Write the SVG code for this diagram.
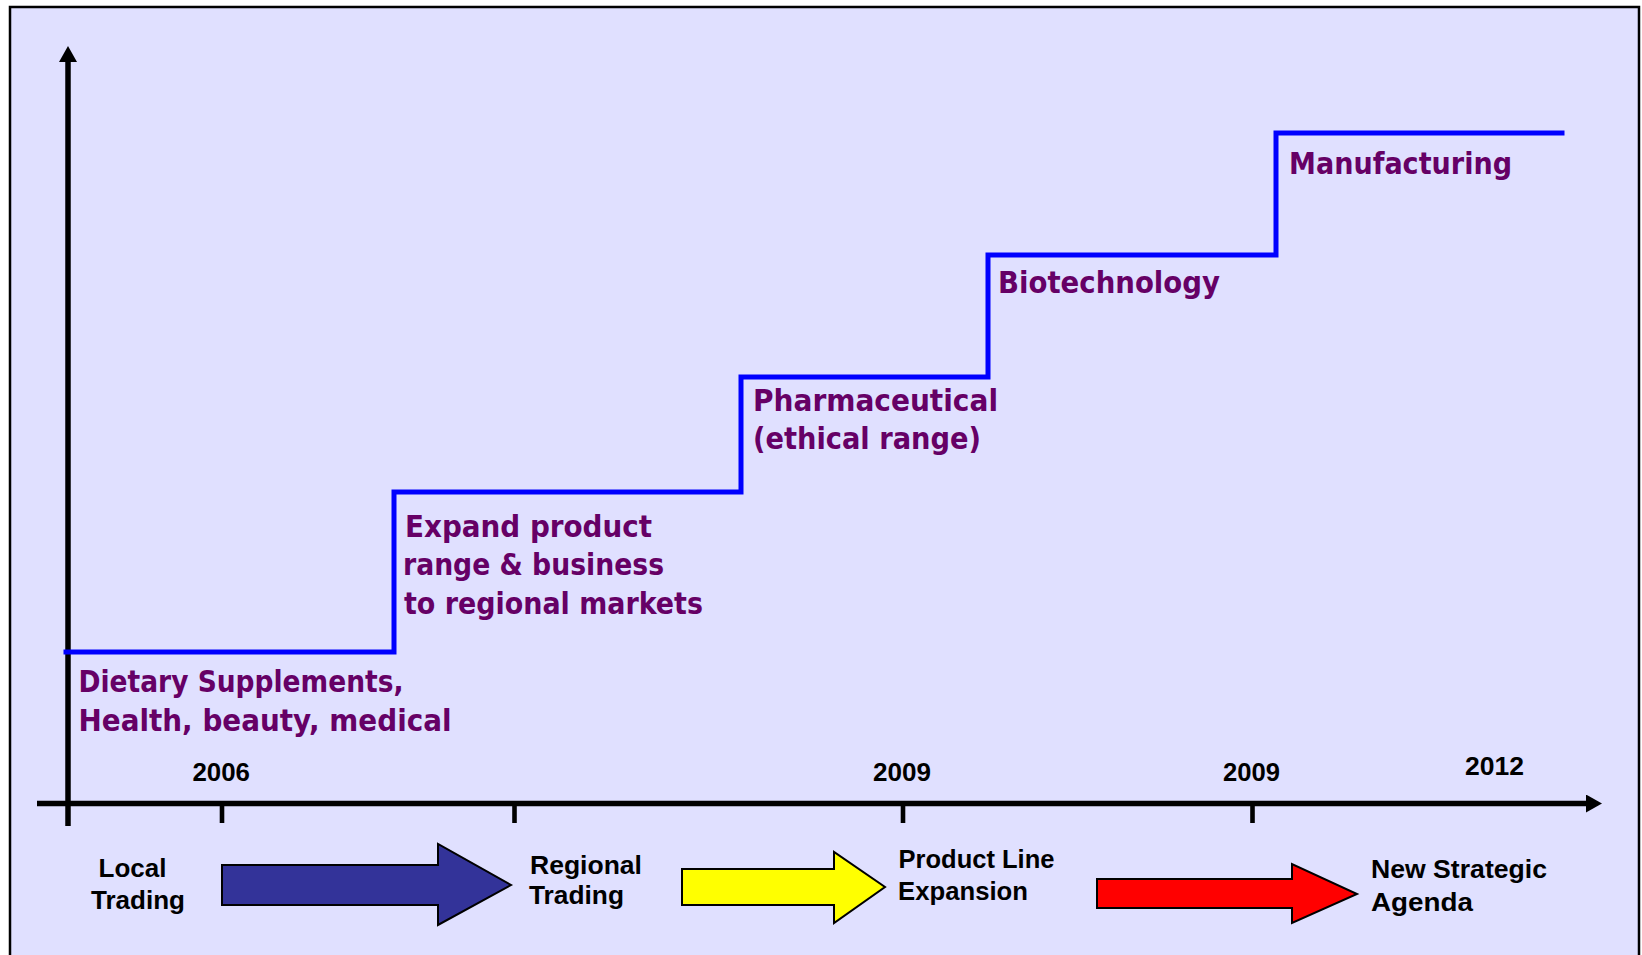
<svg xmlns="http://www.w3.org/2000/svg" width="1642" height="955" viewBox="0 0 1642 955">
  <defs>
    <style>
      .lbl { font-family: "DejaVu Sans", "Liberation Sans", sans-serif; font-weight: bold; font-size: 29.5px; fill: #660066; }
      .blk { font-family: "Liberation Sans", Arial, sans-serif; font-weight: bold; font-size: 26px; fill: #000000; }
      .yr { font-family: "Liberation Sans", Arial, sans-serif; font-weight: bold; font-size: 25px; fill: #000000; }
      .axis { stroke: #000000; stroke-width: 5.5; fill: none; }
      .tick { stroke: #000000; stroke-width: 4.6; fill: none; }
      .step { stroke: #0000FF; stroke-width: 5; fill: none; stroke-linejoin: miter; stroke-linecap: square; }
      .barrow { stroke: #000000; stroke-width: 2; stroke-linejoin: miter; }
    </style>
    <marker id="ah" viewBox="0 0 16 18" refX="0" refY="9" markerWidth="16" markerHeight="18" markerUnits="userSpaceOnUse" orient="auto">
      <path d="M0,0 L16,9 L0,18 Z" fill="#000000"/>
    </marker>
  </defs>

  <rect x="0" y="0" width="1642" height="955" fill="#FFFFFF"/>
  <rect id="frame" x="10" y="7" width="1629" height="960" fill="#E0E0FF" stroke="#000000" stroke-width="2.5"/>

  <g id="connectors">
    <line class="axis" x1="68" y1="826" x2="68" y2="62" marker-end="url(#ah)"/>
    <line class="axis" x1="37" y1="803.5" x2="1586" y2="803.5" marker-end="url(#ah)"/>
    <line class="tick" x1="222" y1="803" x2="222" y2="823"/>
    <line class="tick" x1="514.5" y1="803" x2="514.5" y2="823"/>
    <line class="tick" x1="903" y1="803" x2="903" y2="823"/>
    <line class="tick" x1="1252.5" y1="803" x2="1252.5" y2="823"/>
    <path class="step" d="M66,652 H394 V492 H741 V377 H988 V255 H1276 V133 H1562"/>
  </g>

  <g id="stage-dietary">
    <text class="lbl" x="78.5" y="692" textLength="325" lengthAdjust="spacingAndGlyphs">Dietary Supplements,</text>
    <text class="lbl" x="78.5" y="731" textLength="373" lengthAdjust="spacingAndGlyphs">Health, beauty, medical</text>
  </g>
  <g id="stage-expand">
    <text class="lbl" x="405" y="537" textLength="247" lengthAdjust="spacingAndGlyphs">Expand product</text>
    <text class="lbl" x="403" y="575" textLength="261" lengthAdjust="spacingAndGlyphs">range &amp; business</text>
    <text class="lbl" x="404" y="614" textLength="299" lengthAdjust="spacingAndGlyphs">to regional markets</text>
  </g>
  <g id="stage-pharma">
    <text class="lbl" x="753" y="411" textLength="245" lengthAdjust="spacingAndGlyphs">Pharmaceutical</text>
    <text class="lbl" x="753" y="449" textLength="228" lengthAdjust="spacingAndGlyphs">(ethical range)</text>
  </g>
  <g id="stage-biotech">
    <text class="lbl" x="998" y="293" textLength="222" lengthAdjust="spacingAndGlyphs">Biotechnology</text>
  </g>
  <g id="stage-manufacturing">
    <text class="lbl" x="1289" y="174" textLength="223" lengthAdjust="spacingAndGlyphs">Manufacturing</text>
  </g>

  <g id="year-2006"><text class="yr" x="192.5" y="781" textLength="57.5" lengthAdjust="spacingAndGlyphs">2006</text></g>
  <g id="year-2009a"><text class="yr" x="873" y="781" textLength="58" lengthAdjust="spacingAndGlyphs">2009</text></g>
  <g id="year-2009b"><text class="yr" x="1223" y="781" textLength="57" lengthAdjust="spacingAndGlyphs">2009</text></g>
  <g id="year-2012"><text class="yr" x="1465" y="775" textLength="59" lengthAdjust="spacingAndGlyphs">2012</text></g>

  <g id="phase-local">
    <text class="blk" x="98.5" y="877" textLength="68" lengthAdjust="spacingAndGlyphs">Local</text>
    <text class="blk" x="91" y="909" textLength="94" lengthAdjust="spacingAndGlyphs">Trading</text>
  </g>
  <g id="arrow-blue">
    <polygon class="barrow" fill="#333399" points="222,865 438,865 438,844 511,885 438,925 438,905 222,905"/>
  </g>
  <g id="phase-regional">
    <text class="blk" x="530" y="874" textLength="112" lengthAdjust="spacingAndGlyphs">Regional</text>
    <text class="blk" x="529" y="904" textLength="95" lengthAdjust="spacingAndGlyphs">Trading</text>
  </g>
  <g id="arrow-yellow">
    <polygon class="barrow" fill="#FFFF00" points="682,869 834,869 834,852 885,887 834,923 834,905 682,905"/>
  </g>
  <g id="phase-product">
    <text class="blk" x="898.5" y="868" textLength="156" lengthAdjust="spacingAndGlyphs">Product Line</text>
    <text class="blk" x="898" y="900" textLength="130" lengthAdjust="spacingAndGlyphs">Expansion</text>
  </g>
  <g id="arrow-red">
    <polygon class="barrow" fill="#FF0000" points="1097,879 1292,879 1292,864 1357,894 1292,923 1292,908 1097,908"/>
  </g>
  <g id="phase-strategic">
    <text class="blk" x="1371" y="878" textLength="176" lengthAdjust="spacingAndGlyphs">New Strategic</text>
    <text class="blk" x="1371" y="911" textLength="102" lengthAdjust="spacingAndGlyphs">Agenda</text>
  </g>
</svg>
